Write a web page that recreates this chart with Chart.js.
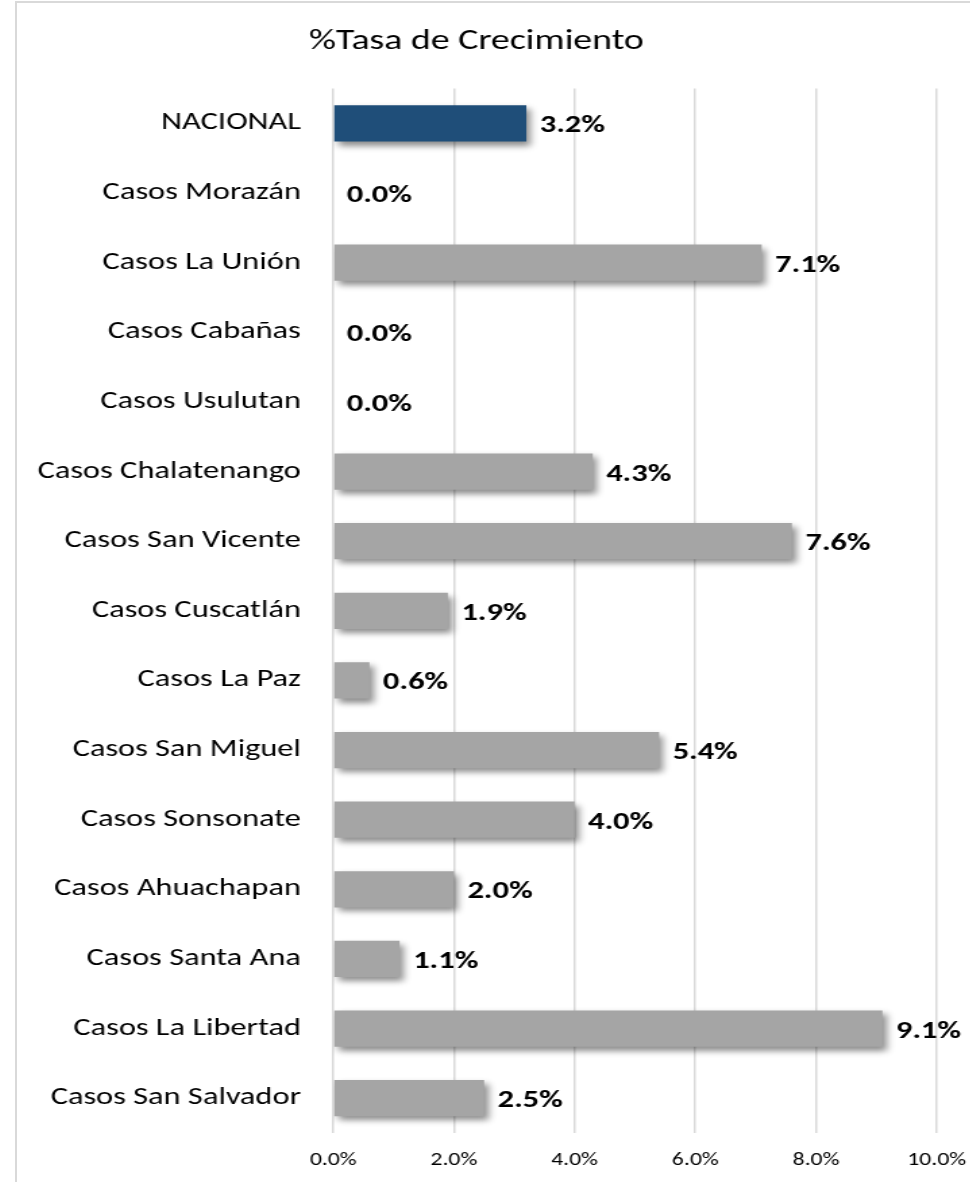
<!DOCTYPE html>
<html>
<head>
<meta charset="utf-8">
<script src="https://cdn.jsdelivr.net/npm/chart.js@4"></script>
<style>
  html, body { margin: 0; padding: 0; background: #fff; overflow: hidden; width: 970px; height: 1182px; }
  #frame { position: absolute; left: 15px; top: 1px; width: 1000px; height: 1300px; border: 2px solid #d9d9d9; box-sizing: border-box; }
  /* el original está estirado en horizontal */
  #wrap { position: absolute; left: 16px; top: 0; width: 724px; height: 1182px; transform: scaleX(1.35); transform-origin: 0 0; }
</style>
</head>
<body>
<div id="frame"></div>
<div id="wrap"><canvas id="myChart"></canvas></div>
<script>
let labels = ["NACIONAL", "Casos Morazán", "Casos La Unión", "Casos Cabañas", "Casos Usulutan",
  "Casos Chalatenango", "Casos San Vicente", "Casos Cuscatlán", "Casos La Paz", "Casos San Miguel",
  "Casos Sonsonate", "Casos Ahuachapan", "Casos Santa Ana", "Casos La Libertad", "Casos San Salvador"]
let tasa = [3.2, 0.0, 7.1, 0.0, 0.0, 4.3, 7.6, 1.9, 0.6, 5.4, 4.0, 2.0, 1.1, 9.1, 2.5]
let xTicks = [0, 2, 4, 6, 8, 10]

let fontFam = "Carlito, Calibri, Lato, sans-serif"

let colores = labels.map(l => l == "NACIONAL" ? "#1f4e79" : "#a5a5a5")

// sombra de las barras + etiquetas de valor
const sombra = {
  id: 'sombra',
  beforeDatasetsDraw(chart) {
    const ctx = chart.ctx
    ctx.save()
    ctx.shadowColor = 'rgba(0,0,0,0.45)'
    ctx.shadowBlur = 6
    ctx.shadowOffsetX = 3
    ctx.shadowOffsetY = 4
  },
  afterDatasetsDraw(chart) {
    const ctx = chart.ctx
    ctx.restore()
    ctx.save()
    ctx.font = "bold 24px " + fontFam
    ctx.fillStyle = "#000"
    ctx.textBaseline = "middle"
    ctx.textAlign = "left"
    chart.getDatasetMeta(0).data.forEach((bar, i) => {
      ctx.fillText(tasa[i].toFixed(1) + "%", bar.x + 10, bar.y + 3)
    })
    ctx.restore()
  }
}

const data = {
  labels: labels,
  datasets: [{
    label: '%Tasa de Crecimiento',
    data: tasa,
    backgroundColor: colores,
    borderWidth: 0,
    categoryPercentage: 1,
    barPercentage: 0.52
  }]
}

const config = {
  type: 'bar',
  data: data,
  plugins: [sombra],
  options: {
    indexAxis: 'y',
    responsive: false,
    animation: false,
    layout: { padding: { left: 0, right: 42, top: 0, bottom: 0 } },
    plugins: {
      legend: { display: false },
      tooltip: { enabled: false },
      title: {
        display: true,
        text: '%Tasa de Crecimiento',
        color: '#000',
        font: { family: fontFam, size: 28, weight: 'normal' },
        padding: { top: 25, bottom: 30 }
      }
    },
    scales: {
      x: {
        min: 0,
        max: 10,
        afterBuildTicks: (scale) => { scale.ticks = xTicks.map(v => ({ value: v })) },
        afterFit: (scale) => { scale.height = 49 },
        grid: { color: '#d9d9d9', lineWidth: 1.5, drawTicks: false },
        border: { display: false },
        ticks: {
          padding: 17,
          color: '#000',
          font: { family: fontFam, size: 17.5 },
          callback: v => v.toFixed(1) + '%'
        }
      },
      y: {
        afterFit: (scale) => { scale.width = 235 },
        grid: { display: false },
        border: { display: false },
        ticks: {
          padding: 16,
          color: '#000',
          font: { family: fontFam, size: 24 }
        }
      }
    }
  }
}

const canvas = document.getElementById('myChart')
canvas.width = 724
canvas.height = 1182
let myChart = new Chart(canvas, config)
</script>
</body>
</html>
